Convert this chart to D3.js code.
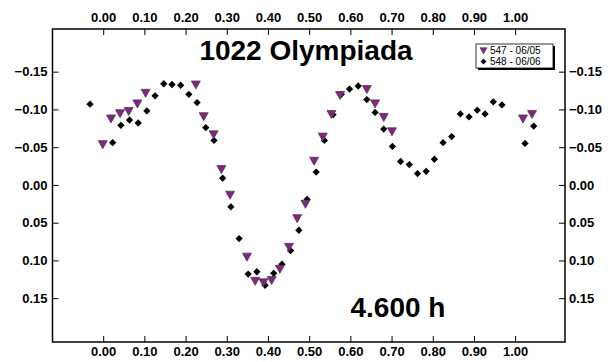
<!DOCTYPE html>
<html>
<head>
<meta charset="utf-8">
<script src="https://cdn.jsdelivr.net/npm/d3@7"></script>
<style>
  html, body { margin: 0; padding: 0; background: #fff; }
  svg { display: block; font-family: "Liberation Sans", Arial, sans-serif; }
</style>
</head>
<body>
<svg id="chart" width="611" height="362"></svg>
<script>
// Lightcurve data, phase vs. magnitude difference
const phase547 = [-0.001, 0.019, 0.041, 0.062, 0.083, 0.103, 0.225, 0.244, 0.268, 0.287, 0.308,
  0.349, 0.369, 0.389, 0.409, 0.429, 0.451, 0.471, 0.491, 0.512, 0.533, 0.554, 0.575,
  0.640, 0.660, 0.681, 0.701, 1.019, 1.041];
const mag547 = [-0.054, -0.088, -0.095, -0.098, -0.108, -0.122, -0.133, -0.091, -0.067, -0.021, 0.013,
  0.095, 0.127, 0.129, 0.126, 0.111, 0.082, 0.044, 0.025, -0.032, -0.064, -0.094, -0.119,
  -0.127, -0.108, -0.090, -0.071, -0.088, -0.094];

const phase548 = [-0.032, 0.023, 0.043, 0.064, 0.085, 0.106, 0.126, 0.147, 0.167, 0.188, 0.208,
  0.228, 0.249, 0.269, 0.290, 0.310, 0.330, 0.352, 0.373, 0.393, 0.414, 0.434, 0.455,
  0.475, 0.495, 0.517, 0.537, 0.558, 0.578, 0.598, 0.619, 0.640, 0.660, 0.681, 0.702,
  0.722, 0.743, 0.763, 0.784, 0.804, 0.825, 0.846, 0.867, 0.888, 0.908, 0.927, 0.947,
  0.968, 1.024, 1.045];
const mag548 = [-0.107, -0.056, -0.079, -0.086, -0.082, -0.098, -0.118, -0.134, -0.133, -0.132, -0.120,
  -0.109, -0.076, -0.059, -0.009, 0.029, 0.071, 0.118, 0.115, 0.133, 0.117, 0.105, 0.087,
  0.060, 0.019, -0.017, -0.059, -0.093, -0.120, -0.127, -0.131, -0.113, -0.096, -0.074, -0.051,
  -0.031, -0.027, -0.015, -0.018, -0.034, -0.056, -0.064, -0.094, -0.090, -0.099, -0.094, -0.110,
  -0.106, -0.055, -0.078];

const xTicks = [0, 0.1, 0.2, 0.3, 0.4, 0.5, 0.6, 0.7, 0.8, 0.9, 1.0];
const yTicks = [-0.15, -0.10, -0.05, 0.00, 0.05, 0.10, 0.15];
const legendLabels = ['547 - 06/05', '548 - 06/06'];
const titleText = '1022 Olympiada';
const periodText = '4.600 h';

const frame = { left: 52.5, right: 565, top: 29, bottom: 342 };

const svg = d3.select('#chart');

const x = d3.scaleLinear().domain([-0.123, 1.121]).range([frame.left, frame.right]);
const y = d3.scaleLinear().domain([-0.2065, 0.208]).range([frame.top, frame.bottom]);

const fmt = d3.format('.2f');
const tickFont = '13px';

// Axes: ticks point inward
function styleAxis(g) {
  g.select('.domain').remove();
  g.selectAll('line').attr('stroke', '#000').attr('stroke-width', 1);
  g.selectAll('text')
    .attr('fill', '#000')
    .attr('font-size', tickFont)
    .attr('font-weight', 'bold')
    .attr('font-family', '"Liberation Sans", Arial, sans-serif');
}

svg.append('g')
  .attr('transform', `translate(0, ${frame.bottom})`)
  .call(d3.axisBottom(x).tickValues(xTicks).tickFormat(fmt).tickSizeInner(-6).tickSizeOuter(0).tickPadding(5))
  .call(styleAxis);

svg.append('g')
  .attr('transform', `translate(0, ${frame.top})`)
  .call(d3.axisTop(x).tickValues(xTicks).tickFormat(fmt).tickSizeInner(-6).tickSizeOuter(0).tickPadding(7))
  .call(styleAxis);

svg.append('g')
  .attr('transform', `translate(${frame.left}, 0)`)
  .call(d3.axisLeft(y).tickValues(yTicks).tickFormat(fmt).tickSizeInner(-6).tickSizeOuter(0).tickPadding(5))
  .call(styleAxis);

svg.append('g')
  .attr('transform', `translate(${frame.right}, 0)`)
  .call(d3.axisRight(y).tickValues(yTicks).tickFormat(fmt).tickSizeInner(-6).tickSizeOuter(0).tickPadding(4))
  .call(styleAxis);

// Plot frame
svg.append('rect')
  .attr('x', frame.left)
  .attr('y', frame.top)
  .attr('width', frame.right - frame.left)
  .attr('height', frame.bottom - frame.top)
  .attr('fill', 'none')
  .attr('stroke', '#000')
  .attr('stroke-width', 1.5);

// Markers
const triPath = 'M -4.5,-3.5 L 4.5,-3.5 L 0,4.5 Z';
const diamond = d3.symbol().type(d3.symbolDiamond2).size(34)();

const pts547 = phase547.map((p, i) => ({ p, m: mag547[i] }));
const pts548 = phase548.map((p, i) => ({ p, m: mag548[i] }));

svg.append('g').selectAll('path')
  .data(pts548)
  .join('path')
  .attr('d', diamond)
  .attr('transform', d => `translate(${x(d.p)}, ${y(d.m)})`)
  .attr('fill', '#000');

svg.append('g').selectAll('path')
  .data(pts547)
  .join('path')
  .attr('d', triPath)
  .attr('transform', d => `translate(${x(d.p)}, ${y(d.m)})`)
  .attr('fill', '#8a1f8a')
  .attr('stroke', '#444')
  .attr('stroke-width', 0.8);

// Title and period
svg.append('text')
  .attr('x', 306)
  .attr('y', 60)
  .attr('text-anchor', 'middle')
  .attr('font-size', '28px')
  .attr('font-weight', 'bold')
  .text(titleText);

svg.append('text')
  .attr('x', 398)
  .attr('y', 317)
  .attr('text-anchor', 'middle')
  .attr('font-size', '28px')
  .attr('font-weight', 'bold')
  .text(periodText);

// Legend with drop shadow
const lg = svg.append('g').attr('transform', 'translate(476, 44)');
lg.append('rect').attr('x', 2).attr('y', 2).attr('width', 77).attr('height', 24).attr('fill', '#000');
lg.append('rect').attr('x', 0).attr('y', 0).attr('width', 77).attr('height', 24)
  .attr('fill', '#fff').attr('stroke', '#000').attr('stroke-width', 0.8);

lg.append('path')
  .attr('d', 'M -3.5,-2.8 L 3.5,-2.8 L 0,3.5 Z')
  .attr('transform', 'translate(7.5, 6.5)')
  .attr('fill', '#8a1f8a')
  .attr('stroke', '#444')
  .attr('stroke-width', 0.6);
lg.append('path')
  .attr('d', d3.symbol().type(d3.symbolDiamond2).size(22)())
  .attr('transform', 'translate(7.5, 17.5)')
  .attr('fill', '#000');

lg.selectAll('text.lbl')
  .data(legendLabels)
  .join('text')
  .attr('class', 'lbl')
  .attr('x', 14)
  .attr('y', (d, i) => 10 + i * 11)
  .attr('font-size', '10px')
  .text(d => d);
</script>
</body>
</html>
